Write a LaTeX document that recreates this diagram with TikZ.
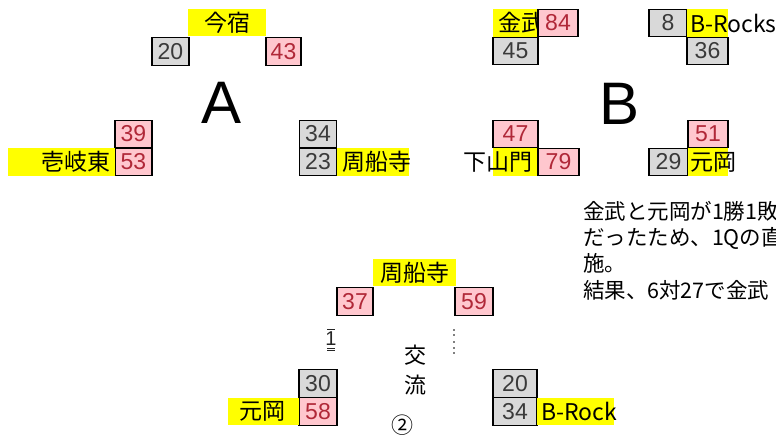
\documentclass[tikz,border=0pt]{standalone}
\usepackage{fontspec}
\setmainfont{Liberation Sans}
\newfontfamily\jpfont{Noto Sans CJK JP}
\definecolor{winpink}{HTML}{FFC7CE}
\definecolor{windark}{HTML}{B02838}
\definecolor{losegray}{HTML}{D9D9D9}
\definecolor{losedark}{HTML}{3A3A3A}
\definecolor{teamyellow}{HTML}{FFFF00}
\begin{document}
\begin{tikzpicture}[x=1pt, y=-1pt,
	every node/.style={inner sep=0pt, outer sep=0pt},
	cell/.style={draw=black, line width=1.3pt, minimum width=37pt, minimum height=27.5pt, font=\fontsize{23}{25}\selectfont},
	win/.style={cell, fill=winpink, text=windark},
	lose/.style={cell, fill=losegray, text=losedark},
	team/.style={fill=teamyellow, minimum height=27.5pt, font=\jpfont\fontsize{23}{25}\selectfont},
	group/.style={font=\fontsize{60}{62}\selectfont},
	]
			\clip (0,0) rectangle (776,439);

			% group A
			\node[group] (labA) at (222,103) {A};
			\node[team, minimum width=78pt] (imajuku) at (227,22.5) {今宿};
			\node[lose] (a20) at (170.5,51.5) {20};
			\node[win, minimum width=35pt] (a43) at (283.5,51.5) {43};
			\node[win] (a39) at (133.5,134) {39};
			\node[win] (a53) at (133.5,162) {53};
			\node[team] (ikihigashi) at (61.5,162) {\makebox[107pt][r]{壱岐東\hspace{5pt}}};
			\node[lose] (a34) at (318,134) {34};
			\node[lose] (a23) at (318,162) {23};
			\node[team] (shuusenji) at (373,162) {\makebox[72pt][l]{\hspace{5pt}周船寺}};

			% group B
			\node[group] (labB) at (620,104) {B};
			\node[team] (kanetake) at (515.5,23) {\makebox[45pt][l]{\hspace{5pt}金武}};
			\node[win, minimum width=40pt] (b84) at (558,23) {84};
			\node[lose, minimum width=45pt] (b45) at (515.5,51) {45};
			\node[lose, minimum width=38pt] (b8) at (668,23) {8};
			\node[team] (brocks) at (707.5,23) {\makebox[41pt][l]{\hspace{3pt}B-Rocks}};
			\node[lose, minimum width=41pt] (b36) at (707.5,51) {36};
			\node[win, minimum width=45pt] (b47) at (515.5,134) {47};
			\node[team] (shimoyamato) at (515.5,162) {\makebox[45pt][r]{下山門\hspace{6pt}}};
			\node[win, minimum width=41pt] (b79) at (558.5,162) {79};
			\node[win, minimum width=40pt] (b51) at (708,134) {51};
			\node[lose, minimum width=39pt] (b29) at (668.5,162) {29};
			\node[team] (motooka) at (708,162) {\makebox[40pt][l]{\hspace{2pt}元岡}};

			% note
			\node[anchor=north west, align=left, font=\jpfont\fontsize{21.5}{26.3}\selectfont] (note) at (583,201) {金武と元岡が1勝1敗\\だったため、1Qの直\\施。\\結果、6対27で金武};

			% exchange match
			\node[team, minimum width=83pt] (shuusenji2) at (414.5,272.5) {周船寺};
			\node[win, minimum width=36pt] (c37) at (355,301.5) {37};
			\node[win, minimum width=38pt] (c59) at (474,301.5) {59};
			\node[lose, minimum width=38pt] (c30) at (318,383.5) {30};
			\node[win, minimum width=38pt] (c58) at (318,411.5) {58};
			\node[team] (motooka2) at (263.5,411.5) {\makebox[71pt][r]{元岡\hspace{14pt}}};
			\node[lose, minimum width=44pt] (c20) at (515,383.5) {20};
			\node[lose, minimum width=44pt] (c34) at (515,411.5) {34};
			\node[team] (brock) at (575.5,411.5) {\makebox[77pt][l]{\hspace{4pt}B-Rock}};
			\node[font=\jpfont\fontsize{22}{24}\selectfont] (kou) at (415,355) {交};
			\node[font=\jpfont\fontsize{22}{24}\selectfont] (ryuu) at (415,385) {流};
			\node[font=\jpfont\fontsize{22}{24}\selectfont] (maru) at (402,425) {②};
			\node[font=\fontsize{20}{22}\selectfont, text=black!85] (mark) at (331,340) {\vbox{\hrule width 8pt height 1.2pt\kern2pt\hbox to 8pt{\hss 1\hss}\kern2pt\hrule width 8pt height 1.2pt\kern1.2pt\hrule width 8pt height 1.2pt}};
			\foreach \y in {329,334,341,347,352}
				\fill[gray] (453,\y) rectangle ++(1.6,1.6);
		\end{tikzpicture}
\end{document}
